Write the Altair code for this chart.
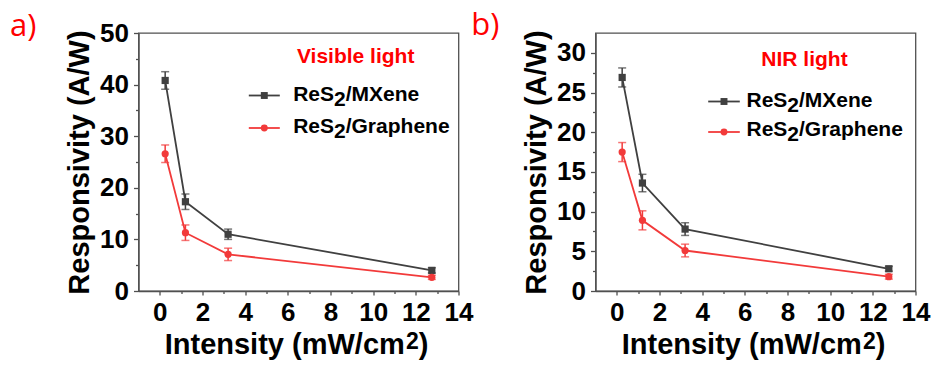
import altair as alt
import pandas as pd

# ---------------- data ----------------
intensity = [0.25, 1.2, 3.2, 12.75]
series_names = ["ReS2/MXene", "ReS2/Graphene"]

vis_mxene = [40.8, 17.3, 11.0, 4.0]
vis_mxene_err = [1.7, 1.5, 1.0, 0.5]
vis_graphene = [26.6, 11.3, 7.1, 2.65]
vis_graphene_err = [1.7, 1.5, 1.2, 0.4]

nir_mxene = [26.9, 13.6, 7.8, 2.8]
nir_mxene_err = [1.2, 1.1, 0.8, 0.3]
nir_graphene = [17.5, 8.9, 5.1, 1.8]
nir_graphene_err = [1.2, 1.2, 0.8, 0.3]

x_tick_values = list(range(0, 15))
vis_y_tick_values = [0, 5, 10, 15, 20, 25, 30, 35, 40, 45, 50]
nir_y_tick_values = [0, 2.5, 5, 7.5, 10, 12.5, 15, 17.5, 20, 22.5, 25, 27.5, 30]

panel_labels = ["a)", "b)"]
light_labels = ["Visible light", "NIR light"]
legend_parts = [["ReS", "2", "/MXene"], ["ReS", "2", "/Graphene"]]
x_title_parts = ["Intensity (mW/cm", "2", ")"]
y_title = "Responsivity (A/W)"

# ---------------- style ----------------
FONT = "Liberation Sans"
GRAY = "#404040"
RED = "#f23a3a"
TITLE_RED = "#ff0000"
AX = "#505050"
W, H = 320, 258


def txt(s, x, y, size, weight="bold", color="black", align="left", font=FONT):
    return alt.Chart(pd.DataFrame({"t": [s]})).mark_text(
        align=align, baseline="alphabetic", font=font, fontSize=size,
        fontWeight=weight, color=color
    ).encode(x=alt.value(x), y=alt.value(y), text="t:N")


def make_panel(mx, mxe, gr, gre, ydom, yvals, ymod, geo):
    rows = []
    for name, vals, errs in [(series_names[0], mx, mxe), (series_names[1], gr, gre)]:
        for xv, v, e in zip(intensity, vals, errs):
            rows.append({"x": xv, "y": v, "lo": v - e, "hi": v + e, "s": name})
    df = pd.DataFrame(rows)

    xs = alt.Scale(domain=[-1, 14], nice=False, zero=False)
    ys = alt.Scale(domain=ydom, nice=False, zero=False)
    xaxis = alt.Axis(
        values=x_tick_values,
        labelExpr="datum.value % 2 === 0 ? datum.label : ''",
        tickSize={"condition": {"test": "datum.value % 2 === 0", "value": 4}, "value": 2.5},
        labelFlush=False, labelOverlap=False, grid=False, title=None,
        labelFont=FONT, labelFontSize=26, labelFontWeight="bold", labelColor="black",
        labelPadding=4, domainColor=AX, tickColor=AX, domainWidth=1.3, tickWidth=1.3,
    )
    yaxis = alt.Axis(
        values=yvals,
        labelExpr=f"datum.value % {ymod} === 0 ? datum.label : ''",
        tickSize={"condition": {"test": f"datum.value % {ymod} === 0", "value": 5}, "value": 3},
        labelFlush=False, labelOverlap=False, grid=False,
        title=y_title, titleX=-50, titleY=H / 2, titleAngle=270,
        titleBaseline="alphabetic", titleAlign="center",
        titleFont=FONT, titleFontSize=29, titleFontWeight="bold", titleColor="black",
        labelFont=FONT, labelFontSize=26, labelFontWeight="bold", labelColor="black",
        labelPadding=5, domainColor=AX, tickColor=AX, domainWidth=1.3, tickWidth=1.3,
    )
    X = alt.X("x:Q", scale=xs, axis=xaxis)
    color = alt.Color("s:N", scale=alt.Scale(domain=series_names, range=[GRAY, RED]), legend=None)

    base = alt.Chart(df)
    lines = base.mark_line(strokeWidth=1.8).encode(
        x=X, y=alt.Y("y:Q", scale=ys, axis=yaxis), color=color, detail="s:N")
    stems = base.mark_rule(strokeWidth=1.5).encode(
        x=X, y=alt.Y("lo:Q", scale=ys, axis=yaxis), y2="hi:Q", color=color)
    cap_lo = base.mark_tick(orient="horizontal", size=8, thickness=1.5).encode(
        x=X, y=alt.Y("lo:Q", scale=ys, axis=yaxis), color=color)
    cap_hi = base.mark_tick(orient="horizontal", size=8, thickness=1.5).encode(
        x=X, y=alt.Y("hi:Q", scale=ys, axis=yaxis), color=color)
    pts = base.mark_point(filled=True, size=52, opacity=1).encode(
        x=X, y=alt.Y("y:Q", scale=ys, axis=yaxis), color=color,
        shape=alt.Shape("s:N", scale=alt.Scale(domain=series_names, range=["square", "circle"]), legend=None))

    layers = [lines, stems, cap_lo, cap_hi, pts]

    # panel letter and light label
    layers.append(txt(geo["letter"], geo["letter_x"], geo["letter_y"], 31, weight="normal",
                      color=TITLE_RED, font="Open Sans"))
    layers.append(txt(geo["light"], geo["light_x"], geo["light_y"], 21, color=TITLE_RED, align="center"))

    # legend
    lx1, lx2 = geo["leg_x1"], geo["leg_x2"]
    for i, (col, shp) in enumerate([(GRAY, "square"), (RED, "circle")]):
        yy = geo["leg_rows"][i]
        layers.append(alt.Chart(pd.DataFrame({"a": [0]})).mark_rule(color=col, strokeWidth=1.8).encode(
            x=alt.value(lx1), x2=alt.value(lx2), y=alt.value(yy)))
        layers.append(alt.Chart(pd.DataFrame({"a": [0]})).mark_point(
            shape=shp, filled=True, size=48, opacity=1, color=col).encode(
            x=alt.value((lx1 + lx2) / 2), y=alt.value(yy)))
        tl = geo["leg_text_x"]
        tb = geo["leg_base"][i]
        p = legend_parts[i]
        layers.append(txt(p[0], tl, tb, 21))
        layers.append(txt(p[1], tl + 40.85, tb + 5, 21))
        layers.append(txt(p[2], tl + 52.5, tb, 21))

    # x title with superscript
    layers.append(txt(x_title_parts[0], 266.3, 321, 29, align="right"))
    layers.append(txt(x_title_parts[1], 267.5, 316, 23))
    layers.append(txt(x_title_parts[2], 280.3, 321, 29))

    return alt.layer(*layers).properties(width=W, height=H)


geo_a = dict(letter=panel_labels[0], letter_x=-128.5, letter_y=3,
             light=light_labels[0], light_x=217.2, light_y=29.7,
             leg_x1=110.3, leg_x2=141.3, leg_rows=[62.5, 95], leg_text_x=154.7, leg_base=[67.5, 100])
geo_b = dict(letter=panel_labels[1], letter_x=-124.2, letter_y=2,
             light=light_labels[1], light_x=209, light_y=33,
             leg_x1=112.7, leg_x2=144.3, leg_rows=[68.5, 99], leg_text_x=151, leg_base=[74, 103])

panel_a = make_panel(vis_mxene, vis_mxene_err, vis_graphene, vis_graphene_err,
                     [0, 50], vis_y_tick_values, 10, geo_a)
panel_b = make_panel(nir_mxene, nir_mxene_err, nir_graphene, nir_graphene_err,
                     [0, 32.5], nir_y_tick_values, 5, geo_b)

chart = alt.hconcat(panel_a, panel_b, spacing=137, bounds="flush").configure_view(
    stroke=AX, strokeWidth=1.3
).properties(
    padding={"left": 8.5, "top": 9, "right": 0, "bottom": 0},
    background="white",
)

chart.save("out.html", embed_options={"renderer": "svg", "actions": False})
